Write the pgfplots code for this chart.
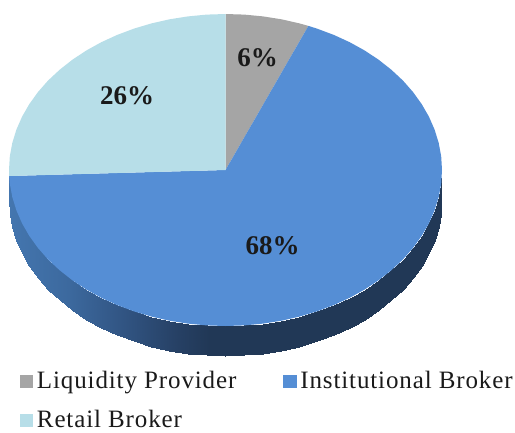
\documentclass[border=0pt]{standalone}
\usepackage{fontspec}
\setmainfont{Liberation Serif}
\newfontfamily\legfont[LetterSpace=3.5]{Liberation Serif}
\usepackage{pgfplots}
\pgfplotsset{compat=1.18}
\definecolor{pgray}{HTML}{A5A5A5}
\definecolor{pblue}{HTML}{558ED5}
\definecolor{plight}{HTML}{B7DEE8}
\definecolor{txt}{HTML}{1A1A1A}
\begin{document}
\begin{tikzpicture}
\begin{axis}[
    width=515pt, height=432pt, scale only axis,
    xmin=0, xmax=515, ymin=0, ymax=432,
    y dir=reverse,
    hide axis, clip=false,
    colormap={pieside}{rgb255(0mm)=(68,118,175); rgb255(60mm)=(60,105,158); rgb255(110mm)=(50,86,133); rgb255(170mm)=(38,64,100); rgb255(200mm)=(33,56,86); rgb255(433mm)=(33,56,86)},
    legend columns=2,
    legend cell align=left,
    legend style={draw=none, fill=none, at={(0.0388,0.145)}, anchor=north west,
      font=\legfont\fontsize{25}{27}\selectfont\color{txt},
      row sep=16pt, inner sep=0pt, outer sep=0pt,
      /tikz/every even column/.append style={column sep=45pt}},
    legend image code/.code={\fill[#1] (0pt,-7pt) rectangle (13.5pt,6pt); \path (15pt,0pt);},
  ]
  % side wall of the pie, upper edge then lower edge
  \addplot[surf, shader=interp, mesh/rows=2, point meta=x, point meta min=9, point meta max=442, forget plot] table {
    x y
    9.0 170
    9.8 183.6
    12.3 197.1
    16.4 210.4
    22.1 223.4
    29.3 235.9
    38.0 248
    48.1 259.5
    59.7 270.3
    72.4 280.3
    86.3 289.5
    101.3 297.8
    117.2 305.1
    134.0 311.4
    151.5 316.6
    169.5 320.7
    187.9 323.6
    206.6 325.4
    225.5 326
    244.4 325.4
    263.1 323.6
    281.5 320.7
    299.5 316.6
    317.0 311.4
    333.8 305.1
    349.7 297.8
    364.7 289.5
    378.6 280.3
    391.3 270.3
    402.9 259.5
    413.0 248
    421.7 235.9
    428.9 223.4
    434.6 210.4
    438.7 197.1
    441.2 183.6
    442.0 170
    9.0 200
    9.8 213.6
    12.3 227.1
    16.4 240.4
    22.1 253.4
    29.3 265.9
    38.0 278
    48.1 289.5
    59.7 300.3
    72.4 310.3
    86.3 319.5
    101.3 327.8
    117.2 335.1
    134.0 341.4
    151.5 346.6
    169.5 350.7
    187.9 353.6
    206.6 355.4
    225.5 356
    244.4 355.4
    263.1 353.6
    281.5 350.7
    299.5 346.6
    317.0 341.4
    333.8 335.1
    349.7 327.8
    364.7 319.5
    378.6 310.3
    391.3 300.3
    402.9 289.5
    413.0 278
    421.7 265.9
    428.9 253.4
    434.6 240.4
    438.7 227.1
    441.2 213.6
    442.0 200
  };
  % Liquidity Provider
  \addplot[fill=pgray, draw=none] coordinates {
    (225.5,170) (225.5,14) (244.4,14.6) (263.1,16.4) (281.5,19.3) (299.5,23.4) (308.4,25.9)
  } --cycle;
  \addlegendentry{Liquidity Provider}
  % Institutional Broker
  \addplot[fill=pblue, draw=none] coordinates {
    (225.5,170) (308.4,25.9) (317.0,28.6) (333.8,34.9) (349.7,42.2) (364.7,50.5) (378.6,59.7)
    (391.3,69.7) (402.9,80.5) (413.0,92) (421.7,104.1) (428.9,116.6) (434.6,129.6) (438.7,142.9)
    (441.2,156.4) (442.0,170) (441.2,183.6) (438.7,197.1) (434.6,210.4) (428.9,223.4) (421.7,235.9)
    (413.0,248) (402.9,259.5) (391.3,270.3) (378.6,280.3) (364.7,289.5) (349.7,297.8) (333.8,305.1)
    (317.0,311.4) (299.5,316.6) (281.5,320.7) (263.1,323.6) (244.4,325.4) (225.5,326) (206.6,325.4)
    (187.9,323.6) (169.5,320.7) (151.5,316.6) (134.0,311.4) (117.2,305.1) (101.3,297.8) (86.3,289.5)
    (72.4,280.3) (59.7,270.3) (48.1,259.5) (38.0,248) (29.3,235.9) (22.1,223.4) (16.4,210.4)
    (12.3,197.1) (9.8,183.6) (9.1,176)
  } --cycle;
  \addlegendentry{Institutional Broker}
  % Retail Broker
  \addplot[fill=plight, draw=none] coordinates {
    (225.5,170) (9.1,176) (9.0,170) (9.8,156.4) (12.3,142.9) (16.4,129.6) (22.1,116.6) (29.3,104.1)
    (38.0,92) (48.1,80.5) (59.7,69.7) (72.4,59.7) (86.3,50.5) (101.3,42.2) (117.2,34.9) (134.0,28.6)
    (151.5,23.4) (169.5,19.3) (187.9,16.4) (206.6,14.6) (225.5,14)
  } --cycle;
  \addlegendentry{Retail Broker}
  \path (axis cs:0,0) rectangle (axis cs:515,432);
  \node[font=\bfseries\fontsize{27}{29}\selectfont, text=txt] at (axis cs:257.5,58) {6\%};
  \node[font=\bfseries\fontsize{27}{29}\selectfont, text=txt] at (axis cs:127,96) {26\%};
  \node[font=\bfseries\fontsize{27}{29}\selectfont, text=txt] at (axis cs:272.5,246) {68\%};
\end{axis}
\end{tikzpicture}
\end{document}
